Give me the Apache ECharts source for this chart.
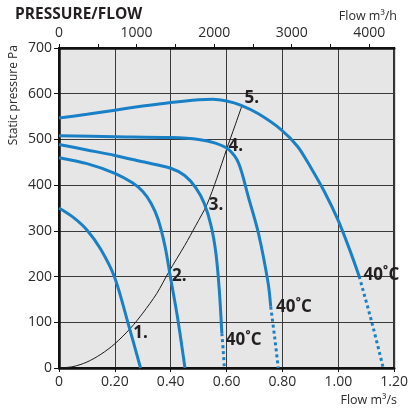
<!DOCTYPE html>
<html><head><meta charset="utf-8">
<script src="https://cdn.jsdelivr.net/npm/echarts@6/dist/echarts.min.js"></script>
<style>html,body{margin:0;padding:0;background:#fff}#c{width:411px;height:410px}</style>
</head><body><div id="c"></div>
<script>
const FONT = '"Open Sans", "Noto Sans", sans-serif';
const curve1 = [[0,350],[0.05,330],[0.1,302],[0.15,259],[0.2,197],[0.25,92],[0.292,0]];
const curve2 = [[0,460],[0.1,447],[0.2,426],[0.263,405],[0.3,386],[0.33,360],[0.355,325],[0.38,265],[0.4,195],[0.424,112],[0.451,0]];
const curve3 = [[0,489],[0.1,477],[0.2,465],[0.3,451],[0.4,437],[0.45,421],[0.49,394],[0.52,360],[0.545,310],[0.562,250],[0.574,170],[0.583,76]];
const curve3Hot = [[0.583,76],[0.588,38],[0.592,0]];
const curve4 = [[0,508],[0.2,506],[0.4,504],[0.5,500],[0.56,492],[0.607,478],[0.643,448],[0.678,374],[0.714,295],[0.749,185],[0.758,134]];
const curve4Hot = [[0.758,134],[0.772,68],[0.785,0]];
const curve5 = [[0,547],[0.1,555],[0.2,564],[0.3,573],[0.4,581],[0.5,587],[0.55,588],[0.6,584],[0.65,575],[0.714,556],[0.796,521],[0.855,484],[0.903,437],[0.95,386],[0.998,325],[1.04,260],[1.075,200]];
const curve5Hot = [[1.075,200],[1.12,100],[1.161,0]];
const systemCurve = [[0,0],[0.05,3],[0.1,13],[0.15,30],[0.2,53],[0.256,87],[0.3,120],[0.35,163],[0.394,211],[0.45,268],[0.49,312],[0.53,358],[0.565,415],[0.601,480],[0.63,530],[0.654,572]];
const curveLabels = [['1.',0.266,77],['2.',0.405,201],['3.',0.536,357],['4.',0.607,486],['5.',0.664,591]];
const tempLabels = [['40˚C',0.597,61],['40˚C',0.777,134],['40˚C',1.09,203]];
const bottomTicks = [0,0.2,0.4,0.6,0.8,1.0,1.2];
const topTicks = [0,1000,2000,3000,4000];
const yTicks = [0,100,200,300,400,500,600,700];

const BLUE = '#1a80c6';
const DARK = '#231f20';
const chart = echarts.init(document.getElementById('c'), null, {renderer:'canvas'});

function solid(d){ return {type:'line', data:d, symbol:'none', smooth:0.3, lineStyle:{color:BLUE,width:3}, z:3, silent:true}; }
function dotted(d){ return {type:'line', data:d, symbol:'none', smooth:0.3, lineStyle:{color:BLUE,width:3,type:[3,3]}, z:3, silent:true}; }
function labelSeries(arr, size){
  return {type:'scatter', symbolSize:0, z:5, silent:true, itemStyle:{opacity:1},
    data: arr.map(a=>({name:a[0], value:[a[1],a[2]]})),
    label:{show:true, position:'right', distance:0, formatter:p=>p.name, opacity:1,
      fontFamily:FONT, fontWeight:'bold', fontSize:size, color:DARK}};
}

chart.setOption({
  animation:false,
  backgroundColor:'#fff',
  title:{text:'PRESSURE/FLOW', left:10, top:2, textStyle:{fontFamily:FONT, fontWeight:'bold', fontSize:15.5, color:DARK}},
  grid:{left:59, right:14, top:48, bottom:42, show:true, backgroundColor:'#e6e6e6', borderColor:'#111', borderWidth:2},
  xAxis:[
    {type:'value', position:'bottom', min:0, max:1.2, interval:0.2,
     axisLine:{show:true, lineStyle:{color:'#111', width:2.5}},
     axisTick:{show:true, length:4, lineStyle:{color:'#111', width:1}},
     axisLabel:{margin:7, fontFamily:FONT, fontSize:14, color:'#2b2b2b',
       formatter:v=>{ const t = bottomTicks.find(b=>Math.abs(b-v)<1e-6); return t===0?'0':(t!==undefined?t.toFixed(2):''); }},
     splitLine:{show:true, lineStyle:{color:'#3a3a3a', width:1}}},
    {type:'value', position:'top', min:0, max:4320, interval:500,
     axisLine:{show:true, lineStyle:{color:'#111', width:2.5}},
     axisTick:{show:true, length:4, lineStyle:{color:'#111', width:1}},
     axisLabel:{margin:8, fontFamily:FONT, fontSize:14, color:'#2b2b2b', showMaxLabel:false,
       formatter:v=> topTicks.indexOf(v)>=0 ? String(v) : ''},
     splitLine:{show:false}}
  ],
  yAxis:{type:'value', min:0, max:700, interval:100,
     axisLine:{show:true, lineStyle:{color:'#111', width:2.5}},
     axisTick:{show:true, length:5, lineStyle:{color:'#111', width:1}},
     axisLabel:{margin:7, fontFamily:FONT, fontSize:14, color:'#2b2b2b',
       formatter:v=> yTicks.indexOf(v)>=0 ? String(v) : ''},
     splitLine:{show:true, lineStyle:{color:'#3a3a3a', width:1}}},
  graphic:[
    {type:'text', x:397, y:16, style:{text:'Flow m³/h', align:'right', verticalAlign:'middle', font:'12.5px '+FONT, fill:'#2b2b2b'}},
    {type:'text', x:397, y:400, style:{text:'Flow m³/s', align:'right', verticalAlign:'middle', font:'12.5px '+FONT, fill:'#2b2b2b'}},
    {type:'text', x:14, y:45, rotation:Math.PI/2, style:{text:'Static pressure Pa', align:'right', verticalAlign:'middle', font:'12px '+FONT, fill:'#2b2b2b'}}
  ],
  series:[
    {type:'line', data:systemCurve, symbol:'none', smooth:0.3, lineStyle:{color:'#1a1a1a', width:1}, z:2, silent:true},
    solid(curve1), solid(curve2), solid(curve3), solid(curve4), solid(curve5),
    dotted(curve3Hot), dotted(curve4Hot), dotted(curve5Hot),
    labelSeries(curveLabels, 17),
    labelSeries(tempLabels, 17)
  ]
});
</script></body></html>
